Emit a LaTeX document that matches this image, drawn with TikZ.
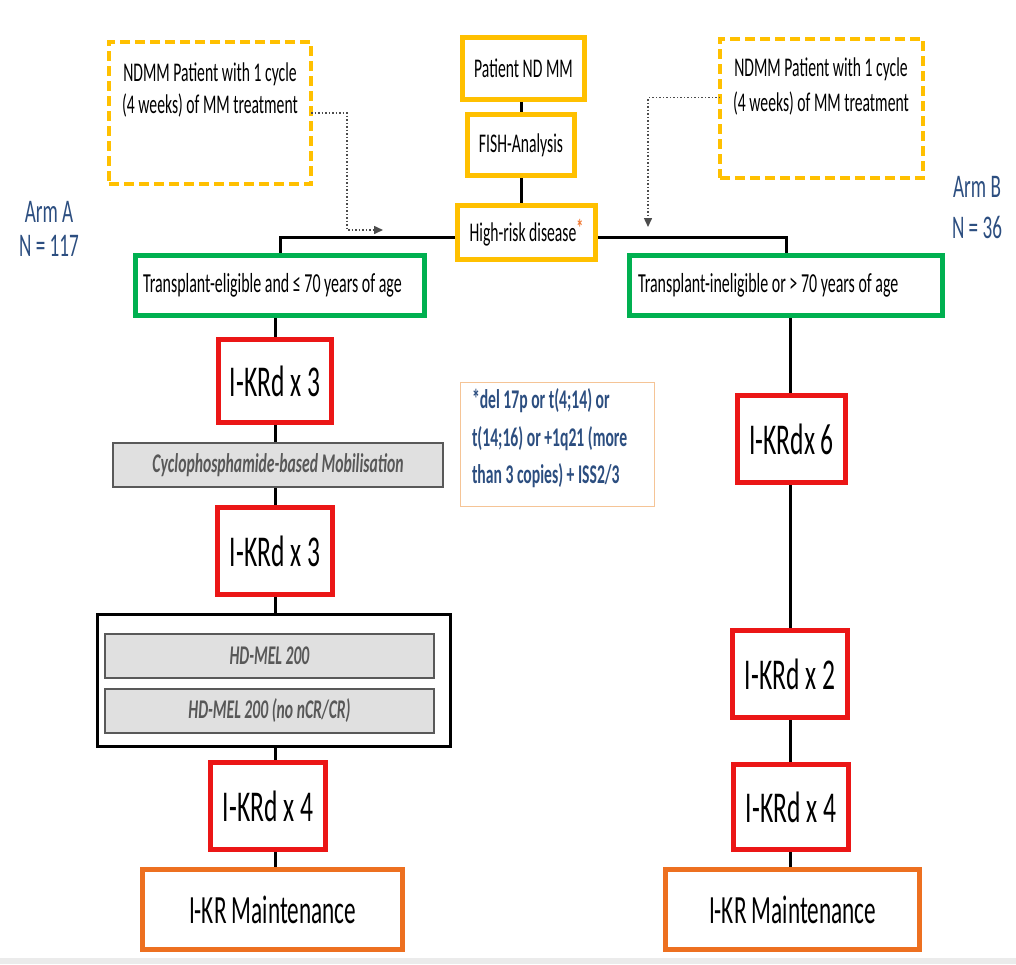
\documentclass[tikz,border=0pt]{standalone}
\usepackage{fontspec}
\setmainfont{Carlito}[FakeStretch=0.58]
\usetikzlibrary{arrows.meta,backgrounds}

\definecolor{ryellow}{RGB}{255,192,0}
\definecolor{rgreen}{RGB}{0,176,80}
\definecolor{rred}{RGB}{235,22,22}
\definecolor{rorange}{RGB}{237,112,32}
\definecolor{rstar}{RGB}{240,120,50}
\definecolor{rblue}{RGB}{44,78,128}
\definecolor{rgraytxt}{RGB}{88,88,88}
\definecolor{rgrayfill}{RGB}{224,224,224}
\definecolor{notebrd}{RGB}{245,196,150}

\begin{document}
\begin{tikzpicture}[x=1pt,y=-1pt,
  every node/.style={inner sep=0pt, outer sep=0pt},
  boxframe/.style={draw, line width=5pt, fill=white},
  ybox/.style={boxframe, draw=ryellow, font=\fontsize{27}{33}\selectfont},
  gbox/.style={boxframe, draw=rgreen, minimum height=60pt, align=flush left, font=\fontsize{27.5}{32}\selectfont},
  rbox/.style={boxframe, draw=rred, minimum width=115pt, minimum height=87pt, font=\fontsize{44}{50}\selectfont},
  obox/.style={boxframe, draw=rorange, minimum height=80pt, font=\fontsize{40}{46}\selectfont},
  dbox/.style={draw=ryellow, line width=4.5pt, dash pattern=on 10pt off 5pt},
  graybox/.style={draw=black!65, line width=1.5pt, fill=rgrayfill, minimum height=44pt,
    text=rgraytxt, font=\fontsize{27}{32}\selectfont\bfseries\itshape},
  smalltxt/.style={font=\fontsize{27}{33}\selectfont},
  notetxt/.style={text=rblue, font=\fontsize{27}{33}\selectfont\bfseries},
  armlbl/.style={text=rblue, font=\fontsize{33}{40}\selectfont},
  link/.style={line width=3pt, black},
  feed/.style={line width=1.5pt, dotted, black!70, -{Triangle[length=9pt,width=8pt]}}
]
\useasboundingbox (0,0) rectangle (1016,964);

% entry point and risk assessment
\node[ybox, minimum width=122pt, minimum height=62pt] (pnd) at (523.5,68.5) {Patient ND MM};
\node[ybox, minimum width=107pt, minimum height=61pt] (fish) at (521,145) {FISH-Analysis};
\node[ybox, minimum width=138pt, minimum height=54pt] (hr) at (526.5,232.5)
  {High-risk disease\raisebox{5pt}{\fontsize{24}{24}\selectfont\bfseries\textcolor{rstar}{*}}};

% pre-treated patients joining the study
\node[dbox, minimum width=202pt, minimum height=142pt] (ldash) at (210,113) {};
\node[smalltxt, anchor=base] (ld1) at (210,81) {NDMM Patient with 1 cycle};
\node[smalltxt, anchor=base] (ld2) at (210,113) {(4 weeks) of MM treatment};
\node[dbox, minimum width=203pt, minimum height=139pt] (rdash) at (821.5,108.5) {};
\node[smalltxt, anchor=base] (rd1) at (821,76) {NDMM Patient with 1 cycle};
\node[smalltxt, anchor=base] (rd2) at (821,111) {(4 weeks) of MM treatment};
\coordinate (lfeed) at (383,230);
\coordinate (rfeed) at (648,227);

% arm labels
\node[armlbl, anchor=base] (armA1) at (49,222) {Arm A};
\node[armlbl, anchor=base] (armA2) at (49,256) {N = 117};
\node[armlbl, anchor=base] (armB1) at (977,197) {Arm B};
\node[armlbl, anchor=base] (armB2) at (977,238) {N = 36};

% eligibility
\node[gbox, minimum width=289pt, text width=274pt] (lgreen) at (280,285.5)
  {Transplant-eligible and ≤ 70 years of age};
\node[gbox, minimum width=313pt, text width=296pt] (rgreen) at (786,285.5)
  {Transplant-ineligible or > 70 years of age};

% arm A
\node[rbox, minimum width=113pt, minimum height=83pt] (kA1) at (275,381) {I-KRd x 3};
\node[graybox, minimum width=330pt] (cyc) at (278,465) {Cyclophosphamide-based Mobilisation};
\node[rbox] (kA2) at (275,551) {I-KRd x 3};
\node[draw=black, line width=3pt, fill=white, minimum width=353pt, minimum height=132pt] (hdbox) at (274,680.5) {};
\node[graybox, minimum width=329pt] (hd1) at (269.5,656) {HD-MEL 200};
\node[graybox, minimum width=329pt] (hd2) at (269.5,711) {HD-MEL 200 (no nCR/CR)};
\node[rbox] (kA3) at (268,806) {I-KRd x 4};
\node[obox, minimum width=260pt] (mA) at (272.5,909.5) {I-KR Maintenance};

% arm B
\node[rbox, minimum width=108pt] (kB1) at (791.5,439) {I-KRdx 6};
\node[rbox] (kB2) at (790,674) {I-KRd x 2};
\node[rbox, minimum height=85pt] (kB3) at (791,807) {I-KRd x 4};
\node[obox, minimum width=254pt] (mB) at (792.5,909.5) {I-KR Maintenance};

% high-risk definition
\node[draw=notebrd, line width=1.5pt, minimum width=194pt, minimum height=124pt] (note) at (557.5,444.5) {};
\node[notetxt, anchor=base west] (n1) at (472,408) {*del 17p or t(4;14) or};
\node[notetxt, anchor=base west] (n2) at (472,446) {t(14;16) or +1q21 (more};
\node[notetxt, anchor=base west] (n3) at (472,483) {than 3 copies) + ISS2/3};

% canvas and connectors, kept behind the boxes
\begin{scope}[on background layer]
  \fill[white] (0,0) rectangle (1016,964);
  \fill[black!8] (0,958) rectangle (1016,964);
  \draw[link] (pnd.south -| fish.north) -- (fish.north);
  \draw[link] (fish.south) -- (fish.south |- hr.north);
  \draw[link] ([yshift=-4.5pt]hr.west) -| (lgreen.north);
  \draw[link] ([yshift=-4.5pt]hr.east) -| (rgreen.north);
  \draw[link] (lgreen.south -| kA1.north) -- (kA1.north);
  \draw[link] (kA1.south) -- (kA1.south |- cyc.north);
  \draw[link] (kA2.north |- cyc.south) -- (kA2.north);
  \draw[link] (kA2.south) -- (kA2.south |- hdbox.north);
  \draw[link] (hdbox.south -| kA2.south) -- (kA2.south |- kA3.north);
  \draw[link] (kA3.south -| kA2.south) -- (kA2.south |- mA.north);
  \draw[link] (rgreen.south -| kB2.north) -- (kB1.north -| kB2.north);
  \draw[link] (kB1.south -| kB2.north) -- (kB2.north);
  \draw[link] (kB2.south) -- (kB3.north -| kB2.south);
  \draw[link] (kB3.south -| kB2.south) -- (mB.north -| kB2.south);
\end{scope}

% pre-treated entry paths
\draw[feed] (ldash.east) -- ++(36,0) |- (lfeed);
\draw[feed] ([yshift=11pt]rdash.west) -| (rfeed);
\end{tikzpicture}
\end{document}
